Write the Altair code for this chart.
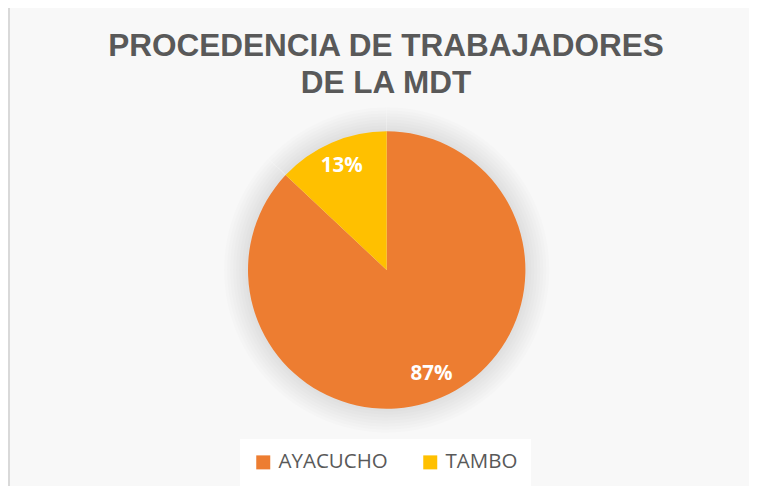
import altair as alt
import pandas as pd

# Data
categories = ["AYACUCHO", "TAMBO"]
shares = [87, 13]
labels = ["87%", "13%"]
rank = [0, 1]
colors = ["#ED7D31", "#FFC000"]

df = pd.DataFrame(
    {"procedencia": categories, "porcentaje": shares, "etiqueta": labels, "orden": rank}
)

CX, CY = 378.7, 152
R = 138.7

base = alt.Chart(df).encode(
    theta=alt.Theta("porcentaje:Q", stack=True),
    order=alt.Order("orden:Q", sort="ascending"),
    x=alt.value(CX),
    y=alt.value(CY),
)

shadow_layers = [
    base.mark_arc(color="#000000", opacity=0.012).encode(radius=alt.value(R + dr))
    for dr in [24, 21, 18, 15, 12, 9, 6, 3]
]

pie = base.mark_arc().encode(
    radius=alt.value(R),
    color=alt.Color(
        "procedencia:N",
        scale=alt.Scale(domain=categories, range=colors),
        legend=alt.Legend(
            title=None,
            orient="none",
            legendX=232,
            legendY=321,
            direction="horizontal",
            symbolType="square",
            symbolSize=196,
            symbolStrokeWidth=0,
            labelFont="Open Sans",
            labelFontSize=20.5,
            labelColor="#595959",
            labelOffset=5,
            columnPadding=32,
            fillColor="white",
            padding=13,
        ),
    ),
)

text = base.mark_text(
    font="Open Sans", fontWeight="bold", fontSize=20.5, color="white"
).encode(text="etiqueta:N", radius=alt.value(113))

border = alt.Chart(df).mark_rule(color="#d9d9d9", strokeWidth=2).encode(
    x=alt.value(1), y=alt.value(-110), y2=alt.value(368)
)

chart = alt.layer(border, *shadow_layers, pie, text).properties(
    width=741,
    height=368,
    padding={"left": 0, "top": 110, "right": 0, "bottom": 0},
    autosize="none",
    background="#f8f8f8",
    title=alt.TitleParams(
        text=["PROCEDENCIA DE TRABAJADORES", "DE LA MDT"],
        font="Liberation Sans",
        fontSize=31.5,
        fontWeight="bold",
        color="#595959",
        anchor="middle",
        dx=7.5,
        dy=96,
        lineHeight=36.5,
    ),
).configure_view(stroke="transparent")

chart.save("out.html", embed_options={"renderer": "svg", "actions": False})
